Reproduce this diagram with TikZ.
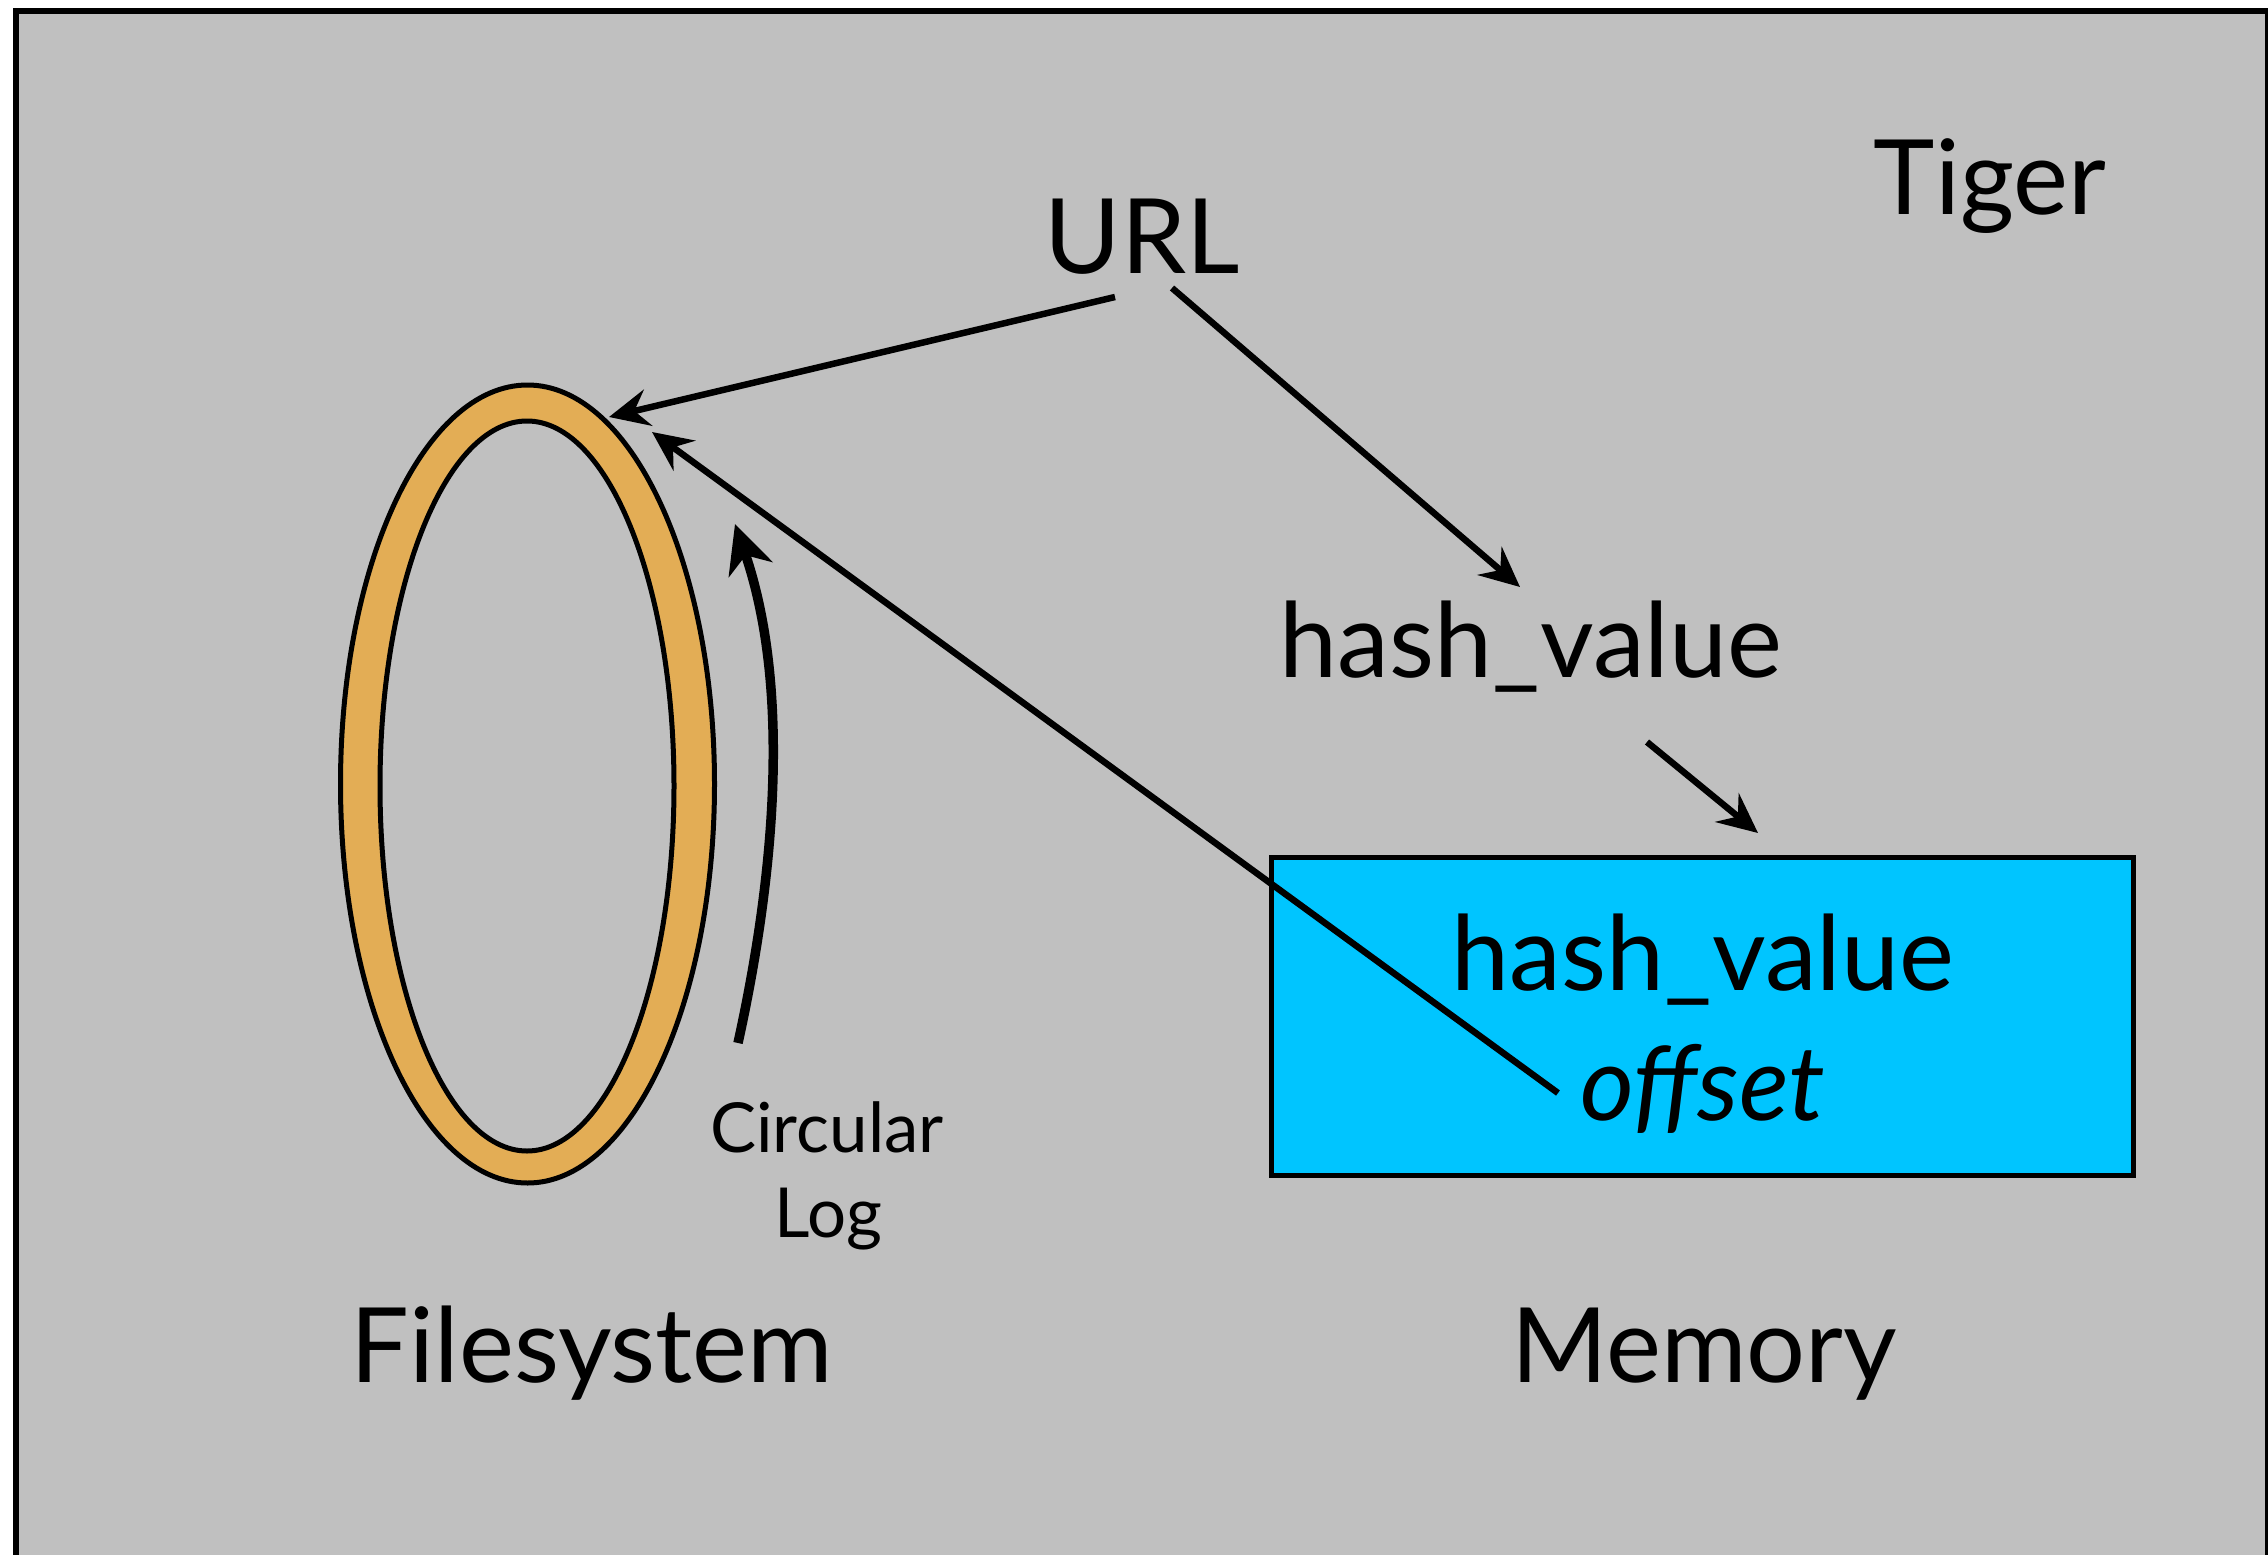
\documentclass[tikz,border=0pt]{standalone}
\usepackage{fontspec}
\setmainfont{Lato}
\usetikzlibrary{arrows.meta,shapes.geometric}
\definecolor{panel}{RGB}{192,192,192}
\definecolor{logring}{RGB}{227,173,85}
\definecolor{memfill}{RGB}{0,197,255}

\begin{document}
\begin{tikzpicture}[x=1pt,y=-1pt,
  big/.style={inner sep=0pt, anchor=base, font=\fontsize{104}{120}\selectfont},
  small/.style={inner sep=0pt, anchor=base, font=\fontsize{69}{80}\selectfont},
  link/.style={line width=6.5pt, -{Stealth[length=40pt,width=37pt,inset=14pt]}},
  spinarrow/.style={line width=9.5pt, -{Stealth[length=48pt,width=46pt,inset=15pt]}},
]
\useasboundingbox (0,0) rectangle (2268,1555);
\fill[white] (0,0) rectangle (2268,1555);
% slide panel, its lower edge runs past the page
\begin{scope}
  \clip (0,0) rectangle (2268,1555);
  \draw[line width=5.5pt, fill=panel] (16,11) rectangle (2267.5,1620);
\end{scope}

% circular log on disk
\node[ellipse, draw, line width=5pt, fill=logring, inner sep=0pt,
      minimum width=374pt, minimum height=798pt] (logouter) at (527.5,784) {};
\node[ellipse, draw, line width=5pt, fill=panel, inner sep=0pt,
      minimum width=294pt, minimum height=730pt] (loginner) at (527,786) {};

% in-memory record
\node[draw, line width=5pt, fill=memfill, inner sep=0pt,
      minimum width=862pt, minimum height=318pt] (membox) at (1702,1016) {};

% labels
\node[big] (url) at (1142,273) {URL};
\node[big] (tiger) at (1990,214) {Tiger};
\node[big] (hashkey) at (1531,677) {hash\_value};
\node[big] (hashrec) at (1703,990) {hash\_value};
\node[big, font=\fontsize{104}{120}\selectfont\itshape] (offset) at (1703,1120) {offset};
\node[big] (fs) at (592,1382) {Filesystem};
\node[big] (mem) at (1704,1382) {Memory};
\node[small] (circ) at (827,1152) {Circular};
\node[small] (logw) at (828,1237) {Log};

% connector end points
\coordinate (urlA) at (1115,297);
\coordinate (urlB) at (1172,288);
\coordinate (ringA) at (609,417);
\coordinate (ringB) at (652,432);
\coordinate (hashIn) at (1520,587);
\coordinate (hashOut) at (1647,742);
\coordinate (recIn) at (1758,833);
\coordinate (offOut) at (1558,1093);
\coordinate (spinFrom) at (738,1043);
\coordinate (spinTo) at (735,524);

\draw[link] (urlA) -- (ringA);
\draw[link] (urlB) -- (hashIn);
\draw[link] (hashOut) -- (recIn);
\draw[link] (offOut) -- (ringB);
\draw[spinarrow] (spinFrom) .. controls (774,880) and (792,690) .. (spinTo);
\end{tikzpicture}
\end{document}
